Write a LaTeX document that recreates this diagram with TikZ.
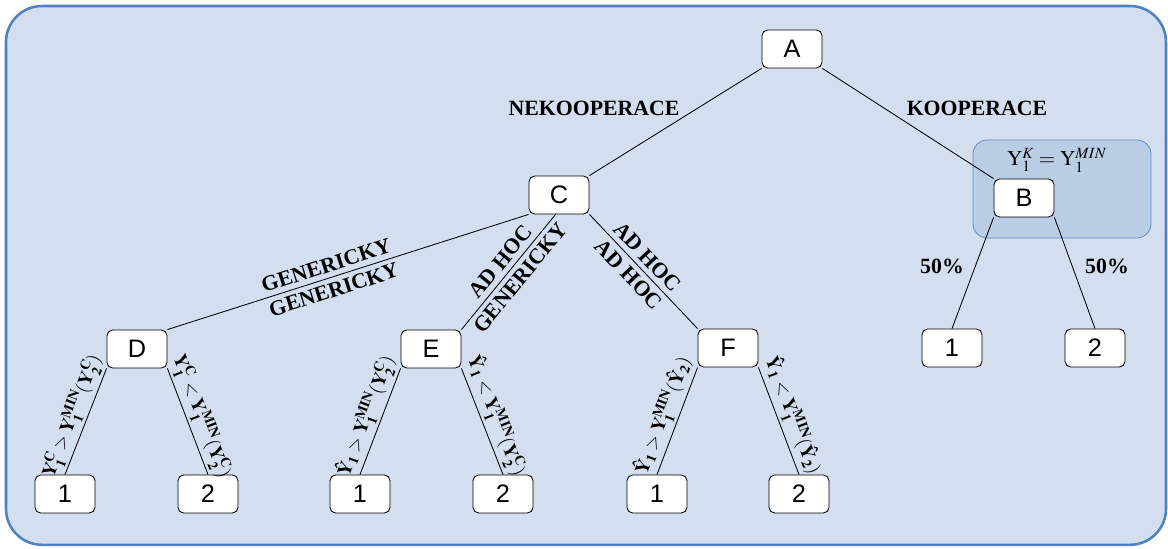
\documentclass[tikz,border=0pt]{standalone}
\usepackage{mathptmx}
\usepackage{fontspec}
\setmainfont{Liberation Serif}
\newfontfamily\boxfont{Liberation Sans}
\usepackage{xcolor}
\definecolor{frameBlue}{RGB}{79, 129, 189}
\definecolor{frameFill}{RGB}{211, 223, 238}
\definecolor{coopFill}{RGB}{185, 205, 229}
\definecolor{coopLine}{RGB}{100, 145, 200}

\begin{document}
\begin{tikzpicture}[
    state/.style={draw,fill=white,rounded corners=4pt,minimum width=1.5cm,minimum height=0.95cm,inner sep=0pt,line width=0.6pt,font=\boxfont\fontsize{18}{20}\selectfont},
    choice/.style={font=\bfseries\fontsize{15.5}{17}\selectfont},
    strat/.style={sloped,inner sep=3.5pt,choice},
    cond/.style={sloped,inner sep=2pt,font=\fontsize{13.5}{15}\selectfont},
    branch/.style={line width=0.6pt}
  ]
  \useasboundingbox (0,0) rectangle (29.2,13.7);
  % Frame
  \draw[frameBlue,fill=frameFill,line width=1.8pt,rounded corners=0.9cm] (0.15,0.08) rectangle (29.15,13.55);
  % Cooperation area
  \draw[coopLine,fill=coopFill,line width=0.6pt,rounded corners=0.35cm] (24.325,7.75) rectangle (28.775,10.2);
  \node (rule) at (26.425,9.7) {\fontsize{15}{17}\selectfont $\mathrm{Y}_1^{K} = \mathrm{Y}_1^{MIN}$};

  % States
  \node[state] (A) at (19.8,12.475) {A};
  \node[state] (C) at (13.975,8.825) {C};
  \node[state] (B) at (25.6,8.75) {B};
  \node[state] (D) at (3.425,4.975) {D};
  \node[state] (E) at (10.775,4.975) {E};
  \node[state] (F) at (18.2,5.0) {F};
  \node[state] (B1) at (23.8,5.0) {1};
  \node[state] (B2) at (27.375,5.0) {2};
  \node[state] (D1) at (1.625,1.35) {1};
  \node[state] (D2) at (5.2,1.35) {2};
  \node[state] (E1) at (9.0,1.35) {1};
  \node[state] (E2) at (12.575,1.35) {2};
  \node[state] (F1) at (16.425,1.35) {1};
  \node[state] (F2) at (19.975,1.35) {2};

  % Top level
  \draw[branch] (A.south west) -- (C.north east);
  \draw[branch] (A.south east) -- (B.north west);
  \node[choice] (nek) at (14.85,11.0) {NEKOOPERACE};
  \node[choice] (kop) at (24.425,11.0) {KOOPERACE};

  % Strategies
  \draw[branch] (C.south west) -- node[strat,pos=0.55,above]{GENERICKY} node[strat,pos=0.55,below]{GENERICKY} (D.north east);
  \draw[branch] (C.-100) -- node[strat,pos=0.48,above]{AD HOC} node[strat,pos=0.48,below]{GENERICKY} (E.north east);
  \draw[branch] (C.south east) -- node[strat,pos=0.45,above]{AD HOC} node[strat,pos=0.45,below]{AD HOC} (F.north west);

  % Outcomes
  \draw[branch] (D.south west) -- node[cond,above]{$\mathbf{Y_1^C > Y_1^{MIN}(Y_2^C)}$} (D1.north);
  \draw[branch] (D.south east) -- node[cond,above]{$\mathbf{Y_1^C < Y_1^{MIN}(Y_2^C)}$} (D2.north);
  \draw[branch] (E.south west) -- node[cond,above]{$\mathbf{\hat{Y}_1 > Y_1^{MIN}(Y_2^C)}$} (E1.north);
  \draw[branch] (E.south east) -- node[cond,above]{$\mathbf{\hat{Y}_1 < Y_1^{MIN}(Y_2^C)}$} (E2.north);
  \draw[branch] (F.south west) -- node[cond,above]{$\mathbf{\hat{Y}_1 > Y_1^{MIN}(\hat{Y}_2)}$} (F1.north);
  \draw[branch] (F.south east) -- node[cond,above]{$\mathbf{\hat{Y}_1 < Y_1^{MIN}(\hat{Y}_2)}$} (F2.north);
  \draw[branch] (B.south west) -- (B1.north);
  \draw[branch] (B.south east) -- (B2.north);
  \node[choice] (p1) at (23.55,7.05) {50\%};
  \node[choice] (p2) at (27.675,7.05) {50\%};
\end{tikzpicture}
\end{document}
